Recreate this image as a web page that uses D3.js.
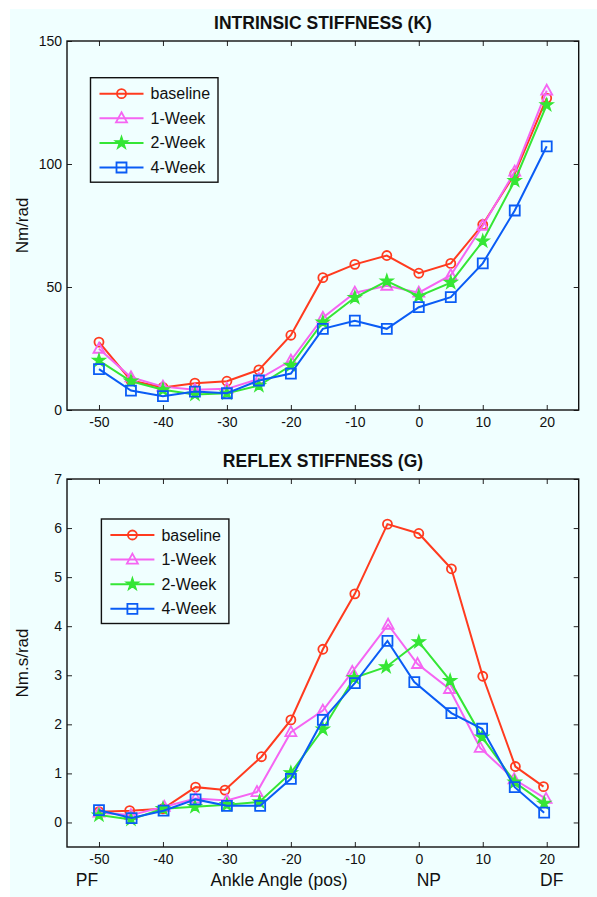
<!DOCTYPE html>
<html>
<head>
<meta charset="utf-8">
<script src="https://cdn.jsdelivr.net/npm/d3@7"></script>
<style>
  body { margin: 0; background: #fff; }
  text { font-family: 'Liberation Sans', Arial, Helvetica, sans-serif; fill: #111; }
</style>
</head>
<body>
<script>
// ankle angles (deg) and series
const angles = [-50, -45, -40, -35, -30, -25, -20, -15, -10, -5, 0, 5, 10, 15, 20];
const seriesNames = ['baseline', '1-Week', '2-Week', '4-Week'];

// intrinsic stiffness K (Nm/rad)
const kBaseline = [27.6, 12.0, 9.2, 10.9, 11.7, 16.3, 30.4, 53.8, 59.2, 62.8, 55.6, 59.6, 75.4, 96.0, 126.8];
const kWeek1    = [24.9, 13.3, 9.5, 8.2, 8.6, 12.6, 20.1, 37.5, 47.7, 50.5, 47.7, 54.8, 74.9, 96.9, 129.8];
const kWeek2    = [20.1, 11.7, 8.2, 6.3, 6.8, 9.9, 18.1, 35.7, 45.7, 52.4, 46.3, 51.8, 68.6, 93.2, 124.0];
const kWeek4    = [16.6, 7.9, 5.6, 7.5, 6.8, 12.0, 14.8, 33.0, 36.3, 33.0, 41.8, 45.9, 59.6, 81.1, 107.2];

// reflex stiffness G (Nm.s/rad), measured angles differ slightly per series
const gAngBaseline = [-50, -45.2, -40, -34.9, -30.3, -24.6, -20, -15, -10, -4.9, 0, 5.1, 10, 15.1, 19.5];
const gAngWeek1    = [-50, -45, -39.8, -34.9, -30, -25.3, -20, -15, -10.4, -4.8, -0.2, 4.8, 9.6, 14.9, 19.9];
const gAngWeek2    = [-50, -45, -40, -35, -30, -24.9, -20, -15, -10.1, -5.1, 0, 4.9, 9.9, 15, 19.6];
const gAngWeek4    = [-50, -44.9, -39.9, -34.9, -30, -24.8, -20, -15, -10, -4.9, -0.7, 5.1, 9.9, 15, 19.6];
const gBaseline = [0.22, 0.24, 0.28, 0.72, 0.66, 1.34, 2.09, 3.53, 4.66, 6.08, 5.89, 5.17, 2.98, 1.14, 0.73];
const gWeek1    = [0.20, 0.15, 0.32, 0.49, 0.45, 0.62, 1.84, 2.28, 3.07, 4.03, 3.23, 2.72, 1.52, 0.88, 0.48];
const gWeek2    = [0.15, 0.06, 0.28, 0.32, 0.36, 0.42, 1.01, 1.90, 2.95, 3.17, 3.68, 2.89, 1.74, 0.82, 0.39];
const gWeek4    = [0.25, 0.09, 0.24, 0.47, 0.34, 0.34, 0.89, 2.09, 2.84, 3.70, 2.86, 2.23, 1.91, 0.72, 0.20];

const xTicks = [-50, -40, -30, -20, -10, 0, 10, 20];
const kTicks = [0, 50, 100, 150];
const gTicks = [0, 1, 2, 3, 4, 5, 6, 7];
const bottomLabels = [['PF', -50], ['NP', 0], ['DF', 20]];

// styles
const colors = ['#ff3b1f', '#f565f2', '#35e635', '#0a5cf5'];
const markers = ['circle', 'triangle', 'star', 'square'];

const W = 597, H = 897;
const svg = d3.select('body').append('svg').attr('width', W).attr('height', H);
svg.append('rect').attr('x', 10).attr('y', 9).attr('width', W - 10).attr('height', H - 9).attr('fill', '#f0ffff');

function markerPath(type) {
  if (type === 'circle') return d3.symbol(d3.symbolCircle, 64)();
  if (type === 'star') return d3.symbol(d3.symbolStar, 52)();
  if (type === 'square') return 'M-5,-5H5V5H-5Z';
  return 'M0,-6L5.5,4L-5.5,4Z';
}

function drawMarker(g, type, color, x, y) {
  g.append('path')
    .attr('d', markerPath(type))
    .attr('transform', 'translate(' + x + ',' + y + ')')
    .attr('fill', type === 'star' ? color : 'none')
    .attr('stroke', color)
    .attr('stroke-width', type === 'star' ? 1.2 : 1.8);
}

// plain hyphen minus like the original, not the unicode one
const fmt = d => String(d);

function drawPanel(cfg) {
  const x = d3.scaleLinear().domain([-55, 25]).range([67, 578.7]);
  const y = d3.scaleLinear().domain(cfg.yDomain).range([cfg.bottom, cfg.top]);
  const g = svg.append('g');

  // inward ticks on all four sides
  g.append('g').attr('transform', 'translate(0,' + cfg.bottom + ')')
    .call(d3.axisBottom(x).tickValues(xTicks).tickSize(-5).tickPadding(7).tickFormat(fmt));
  g.append('g').attr('transform', 'translate(0,' + cfg.top + ')')
    .call(d3.axisTop(x).tickValues(xTicks).tickSize(-5).tickFormat(''));
  g.append('g').attr('transform', 'translate(67,0)')
    .call(d3.axisLeft(y).tickValues(cfg.yTicks).tickSize(-5).tickPadding(5).tickFormat(fmt));
  g.append('g').attr('transform', 'translate(578.7,0)')
    .call(d3.axisRight(y).tickValues(cfg.yTicks).tickSize(-5).tickFormat(''));
  g.selectAll('.domain').remove();
  g.selectAll('.tick line').attr('stroke', '#222').attr('stroke-width', 1);
  g.selectAll('.tick text').attr('font-size', 14).attr('fill', '#111')
    .attr('font-family', "'Liberation Sans', Arial, sans-serif");

  g.append('rect').attr('x', 67).attr('y', cfg.top)
    .attr('width', 578.7 - 67).attr('height', cfg.bottom - cfg.top)
    .attr('fill', 'none').attr('stroke', '#111').attr('stroke-width', 1.4);

  const line = d3.line().x(d => x(d[0])).y(d => y(d[1]));
  cfg.series.forEach(function(s, i) {
    const pts = s.xs.map((a, j) => [a, s.ys[j]]);
    g.append('path').datum(pts).attr('d', line)
      .attr('fill', 'none').attr('stroke', colors[i]).attr('stroke-width', 2);
    pts.forEach(p => drawMarker(g, markers[i], colors[i], x(p[0]), y(p[1])));
  });

  // title + y label
  g.append('text').attr('x', 323).attr('y', cfg.top - 12).attr('text-anchor', 'middle')
    .attr('font-size', 17.5).attr('font-weight', 'bold').text(cfg.title);
  g.append('text').attr('transform', 'translate(28,' + (cfg.top + cfg.bottom) / 2 + ') rotate(-90)')
    .attr('text-anchor', 'middle').attr('font-size', 17).text(cfg.yLabel);

  // legend
  const lg = g.append('g').attr('transform', 'translate(' + cfg.legend[0] + ',' + cfg.legend[1] + ')');
  lg.append('rect').attr('width', 127.5).attr('height', 104.5)
    .attr('fill', '#f0ffff').attr('stroke', '#111').attr('stroke-width', 1.4);
  seriesNames.forEach(function(name, i) {
    const ry = 16 + i * 24.6;
    lg.append('line').attr('x1', 9).attr('x2', 53).attr('y1', ry).attr('y2', ry)
      .attr('stroke', colors[i]).attr('stroke-width', 2);
    drawMarker(lg, markers[i], colors[i], 31, ry);
    lg.append('text').attr('x', 60).attr('y', ry + 5.5).attr('font-size', 16).text(name);
  });
  return x;
}

drawPanel({
  title: 'INTRINSIC STIFFNESS (K)', yLabel: 'Nm/rad',
  yDomain: [0, 150], yTicks: kTicks, top: 41, bottom: 410, legend: [90.5, 77.7],
  series: [
    {xs: angles, ys: kBaseline}, {xs: angles, ys: kWeek1},
    {xs: angles, ys: kWeek2}, {xs: angles, ys: kWeek4}
  ]
});

const xr = drawPanel({
  title: 'REFLEX STIFFNESS (G)', yLabel: 'Nm.s/rad',
  yDomain: [-0.5, 7], yTicks: gTicks, top: 479, bottom: 847, legend: [101.4, 519],
  series: [
    {xs: gAngBaseline, ys: gBaseline}, {xs: gAngWeek1, ys: gWeek1},
    {xs: gAngWeek2, ys: gWeek2}, {xs: gAngWeek4, ys: gWeek4}
  ]
});

// bottom axis captions
bottomLabels.forEach(function(b) {
  svg.append('text').attr('x', xr(b[1]) + (b[0] === 'PF' ? -12 : (b[0] === 'DF' ? 5 : 10)))
    .attr('y', 885.5).attr('text-anchor', 'middle').attr('font-size', 17.5).text(b[0]);
});
svg.append('text').attr('x', 279).attr('y', 885.5).attr('text-anchor', 'middle')
  .attr('font-size', 17.5).text('Ankle Angle (pos)');
</script>
</body>
</html>
